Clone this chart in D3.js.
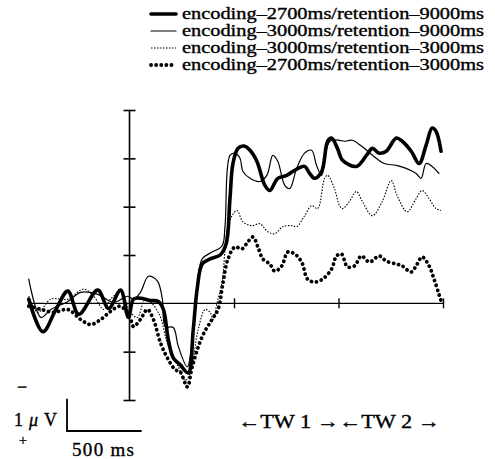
<!DOCTYPE html>
<html>
<head>
<meta charset="utf-8">
<script src="https://cdn.jsdelivr.net/npm/d3@7"></script>
<style>
  body { margin: 0; background: #fff; }
  text { font-family: "Liberation Serif", "Times New Roman", serif; fill: #000; stroke: #000; stroke-width: 0.35; }
</style>
</head>
<body>
<svg width="495" height="459"></svg>
<script>
// time in ms, amplitude in µV (negative drawn upward)
const enc2700ret9000 = [
  [-675,-0.13],[-580,0.88],[-493,0.19],[-413,-0.38],[-340,0.34],[-213,-0.41],[-140,0.16],[-60,-0.41],
  [-7,0.44],[27,-0.13],[73,-0.16],[140,-0.09],[193,-0.06],[227,0.19],[260,1.13],[293,1.69],[340,1.91],
  [393,2.16],[427,0.81],[453,-0.44],[487,-1.22],[540,-1.38],[607,-1.5],[647,-1.84],[673,-3.25],
  [693,-4.34],[727,-4.81],[767,-4.88],[807,-4.75],[853,-4.41],[907,-3.66],[940,-3.5],[993,-3.88],
  [1053,-3.97],[1107,-4.13],[1173,-4.25],[1207,-4.03],[1240,-3.88],[1287,-4.09],[1327,-5.03],
  [1353,-5.13],[1393,-4.81],[1427,-4.44],[1520,-4.25],[1587,-4.59],[1627,-4.81],[1673,-4.66],
  [1720,-4.72],[1787,-5.13],[1827,-5.03],[1887,-4.72],[1940,-4.34],[1987,-4.91],[2027,-5.44],
  [2053,-5.34],[2087,-4.72]
]
const enc3000ret9000 = [
  [-675,-0.75],[-593,0.44],[-527,0.19],[-413,-0.06],[-327,-0.34],[-213,-0.28],[-107,-0.03],[-13,-0.22],
  [27,-0.13],[73,-0.34],[127,-0.84],[187,-0.69],[220,-0.13],[240,0.72],[293,0.75],[327,1.34],[387,1.97],
  [420,1.13],[453,-0.53],[487,-1.38],[553,-1.59],[620,-1.78],[640,-2.41],[673,-4.59],[707,-4.66],
  [740,-4.5],[760,-4.09],[807,-3.88],[873,-3.78],[920,-3.97],[960,-4.59],[993,-4.41],[1040,-3.66],
  [1073,-3.56],[1120,-4.19],[1173,-4.66],[1220,-4.75],[1253,-4.28],[1287,-3.97],[1327,-4.91],
  [1353,-5.06],[1407,-5.06],[1440,-5.03],[1493,-5.06],[1553,-4.88],[1653,-4.5],[1707,-4.34],
  [1787,-4.28],[1853,-4.19],[1920,-4.03],[1953,-3.88],[1987,-4.34],[2027,-4.25],[2073,-4.03]
]
const enc3000ret3000 = [
  [-675,-0.22],[-613,0.28],[-527,-0.13],[-413,-0.13],[-307,-0.44],[-240,-0.22],[-173,0.19],[-127,-0.13],
  [-60,-0.34],[7,0.28],[53,0.44],[107,-0.13],[193,0.28],[260,1.34],[327,1.97],[373,2.38],[407,2.16],
  [460,0.81],[507,0.19],[540,0.28],[560,0.5],[587,-0.03],[620,-0.66],[653,-2.22],[687,-2.72],
  [720,-2.88],[760,-2.53],[820,-2.41],[873,-2.47],[927,-2.22],[973,-2.16],[1027,-2.38],[1087,-2.41],
  [1120,-2.38],[1173,-2.72],[1220,-3.03],[1260,-2.94],[1307,-3.88],[1327,-3.97],[1373,-3.56],
  [1407,-3.03],[1427,-2.94],[1473,-3.16],[1520,-3.47],[1560,-3.16],[1627,-2.72],[1693,-3.16],
  [1753,-3.81],[1793,-3.34],[1860,-2.84],[1920,-3.25],[1960,-3.5],[2007,-3.25],[2053,-2.94],[2087,-2.88]
]
const enc2700ret3000 = [
  [-675,0.09],[-593,0.19],[-507,0.28],[-413,0.19],[-327,0.5],[-260,0.66],[-193,0.5],[-127,0.25],
  [-60,0.09],[7,0.5],[27,0.72],[73,0.5],[120,0.19],[160,0.5],[207,1.22],[260,1.75],[307,2.06],
  [340,2.13],[387,2.59],[420,1.97],[487,1.03],[553,0.5],[593,0.19],[627,-0.66],[660,-1.38],
  [707,-1.75],[753,-1.69],[793,-1.91],[827,-2.06],[860,-1.75],[893,-1.38],[940,-1.22],[973,-1.0],
  [1020,-1.16],[1060,-1.59],[1107,-1.53],[1153,-1.28],[1193,-0.75],[1240,-0.66],[1293,-0.75],
  [1353,-1.06],[1387,-1.47],[1420,-1.53],[1460,-1.13],[1507,-1.16],[1553,-1.47],[1607,-1.28],
  [1673,-1.47],[1720,-1.31],[1787,-1.22],[1827,-1.16],[1887,-0.97],[1927,-1.22],[1960,-1.44],
  [2007,-1.16],[2040,-0.75],[2073,-0.28],[2093,0.0]
]

const seriesNames = [
  "encoding\u20132700ms/retention\u20139000ms",
  "encoding\u20133000ms/retention\u20139000ms",
  "encoding\u20133000ms/retention\u20133000ms",
  "encoding\u20132700ms/retention\u20133000ms"
]
const yTicks = [-6, -4.5, -3, -1.5, 1.5, 3]
const xTicks = [700, 1400, 2100]

const svg = d3.select("svg")

const x = d3.scaleLinear().domain([-680, 2100]).range([28, 443])
const y = d3.scaleLinear().domain([-6, 3]).range([110, 400])

const styles = [
  { width: 3.6, dash: null, cap: "round" },
  { width: 1.2, dash: null, cap: "round" },
  { width: 1.1, dash: "1.5,1.5", cap: "butt" },
  { width: 3.8, dash: "0.1,5", cap: "round" }
]
const seriesData = [enc2700ret9000, enc3000ret9000, enc3000ret3000, enc2700ret3000]

// y axis (vertical at t = 0)
svg.append("line")
  .attr("x1", x(0)).attr("x2", x(0))
  .attr("y1", y(-6)).attr("y2", y(3))
  .attr("stroke", "#000").attr("stroke-width", 1.6)

let yAxis = svg.append("g")
  .attr("transform", `translate(${x(0)},0)`)
  .call(d3.axisLeft(y).tickValues(yTicks).tickFormat("").tickSize(6))
yAxis.select(".domain").remove()
yAxis.selectAll(".tick line").attr("x1", -6).attr("x2", 6).attr("stroke-width", 1.6)

// x axis (horizontal at 0 µV)
svg.append("line")
  .attr("x1", x(-680)).attr("x2", x(2100))
  .attr("y1", y(0)).attr("y2", y(0))
  .attr("stroke", "#000").attr("stroke-width", 1.4)

let xAxis = svg.append("g")
  .attr("transform", `translate(0,${y(0)})`)
  .call(d3.axisBottom(x).tickValues(xTicks).tickFormat("").tickSize(5))
xAxis.select(".domain").remove()
xAxis.selectAll(".tick line").attr("y1", -5).attr("y2", 5).attr("stroke-width", 1.4)

// waveforms
const line = d3.line()
  .x(d => x(d[0]))
  .y(d => y(d[1]))
  .curve(d3.curveCatmullRom.alpha(0.5))

seriesData.forEach((data, i) => {
  svg.append("path")
    .datum(data)
    .attr("d", line)
    .attr("fill", "none")
    .attr("stroke", "#000")
    .attr("stroke-width", styles[i].width)
    .attr("stroke-linecap", styles[i].cap)
    .attr("stroke-linejoin", "round")
    .attr("stroke-dasharray", styles[i].dash)
})

// legend
let legend = svg.append("g")
seriesNames.forEach((name, i) => {
  let yy = 14 + i * 17
  legend.append("line")
    .attr("x1", 151).attr("x2", 176)
    .attr("y1", yy).attr("y2", yy)
    .attr("stroke", "#000")
    .attr("stroke-width", styles[i].width)
    .attr("stroke-linecap", styles[i].cap)
    .attr("stroke-dasharray", styles[i].dash)
  legend.append("text")
    .attr("x", 182).attr("y", yy + 5)
    .attr("font-size", 16)
    .attr("textLength", 302)
    .attr("lengthAdjust", "spacingAndGlyphs")
    .text(name)
})

// calibration bar
const barX = 67, barY = 431
svg.append("path")
  .attr("d", `M${barX},${barY - (y(1) - y(0))}V${barY}H${barX + x(500) - x(0)}`)
  .attr("fill", "none").attr("stroke", "#000").attr("stroke-width", 1.8)

svg.append("text").attr("x", 22).attr("y", 393).attr("font-size", 18).attr("text-anchor", "middle").text("\u2212")
let uv = svg.append("text").attr("x", 14).attr("y", 426).attr("font-size", 18)
  .attr("textLength", 43).attr("lengthAdjust", "spacing")
uv.append("tspan").text("1 ")
uv.append("tspan").attr("font-style", "italic").text("\u03bc")
uv.append("tspan").text(" V")
svg.append("text").attr("x", 23).attr("y", 445).attr("font-size", 14).attr("text-anchor", "middle").text("+")
svg.append("text").attr("x", 72).attr("y", 456).attr("font-size", 19)
  .attr("textLength", 62).attr("lengthAdjust", "spacing").text("500 ms")

// time windows
svg.append("text").attr("x", 238).attr("y", 428).attr("font-size", 19)
  .attr("textLength", 202).attr("lengthAdjust", "spacingAndGlyphs")
  .text("\u2190TW 1 \u2192\u2190TW 2 \u2192")
</script>
</body>
</html>
